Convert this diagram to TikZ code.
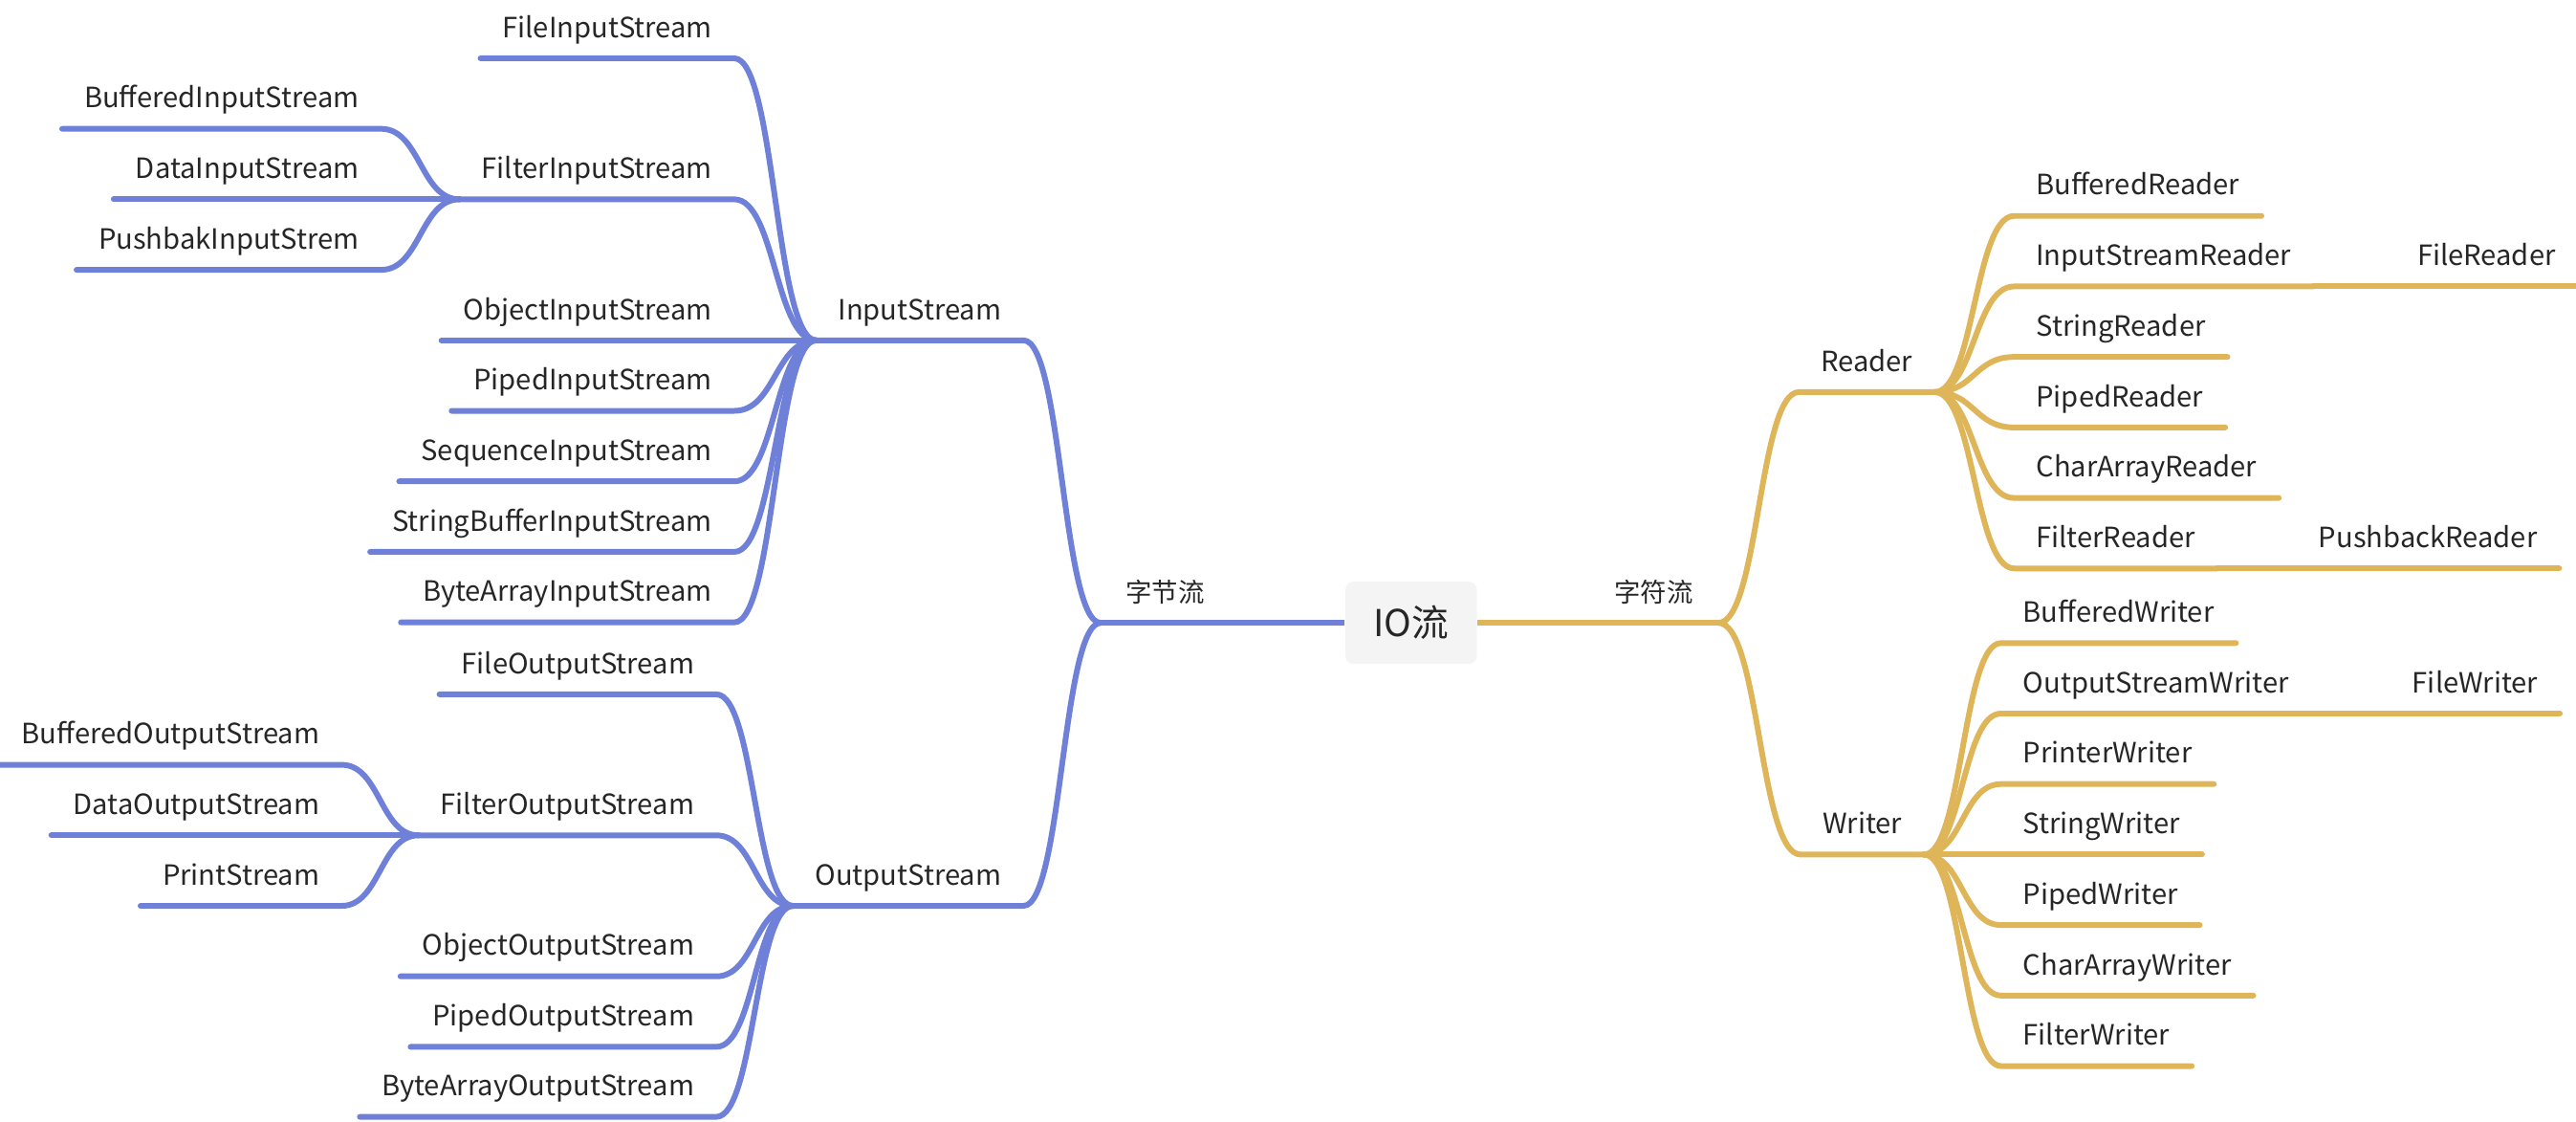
\documentclass[tikz,border=0pt]{standalone}
\usepackage{fontspec}
\setmainfont{Noto Sans CJK SC}
\usetikzlibrary{calc,positioning}

\definecolor{bluebr}{RGB}{111,128,217}
\definecolor{goldbr}{RGB}{223,181,89}
\definecolor{txtgray}{RGB}{38,38,38}
\definecolor{rootgray}{RGB}{244,244,244}

\tikzset{
  lt/.style={font=\fontsize{8.3}{10}\selectfont, text=txtgray, inner xsep=6.35pt, inner ysep=6pt, text depth=0pt, anchor=south east},
  rt/.style={lt, anchor=south west},
  mainlbl/.style={lt, font=\fontsize{7.8}{9}\selectfont, inner xsep=7.3pt},
  rootbox/.style={fill=rootgray, rounded corners=2.3pt, minimum width=1.374cm, minimum height=0.859cm, inner sep=0pt, font=\fontsize{11}{13}\selectfont, text=txtgray},
  bline/.style={bluebr, line width=1.7pt, line cap=round},
  gline/.style={goldbr, line width=1.7pt, line cap=round},
  curv/.style={to path={let \p1=(\tikztostart), \p2=(\tikztotarget) in
    .. controls ({(\x1+\x2)/2},\y1) and ({(\x1+\x2)/2},\y2) .. (\tikztotarget) \tikztonodes}}
}

\begin{document}
\begin{tikzpicture}[x=0.01718cm, y=-0.01718cm]
	\useasboundingbox (0,0) rectangle (1568,682.2);
	% root
	\node[rootbox] (io) at (859,379) {IO流};
	\node[mainlbl, anchor=south west] (bytes) at (670,379) {字节流};
	\node[mainlbl, anchor=south east] (chars) at (1046,379) {字符流};
	\draw[bluebr, line width=1.85pt] (io.west) -- (bytes.south west);
	\draw[goldbr, line width=1.85pt] (io.east) -- (chars.south east);

	% byte streams
	\node[lt] (ins) at (623,207.1) {InputStream};
	\node[lt] (ous) at (623,551.2) {OutputStream};
	\draw[bline] (ins.south west) -- (ins.south east) to[curv] (bytes.south west);
	\draw[bline] (ous.south west) -- (ous.south east) to[curv] (bytes.south west);

	\node[lt] (fis) at (447,35.5) {FileInputStream};
	\node[lt] (fil) at (447,121.3) {FilterInputStream};
	\node[lt] (ois) at (447,207.1) {ObjectInputStream};
	\node[lt] (pis) at (447,250) {PipedInputStream};
	\node[lt] (sis) at (447,292.9) {SequenceInputStream};
	\node[lt] (sbis) at (447,335.8) {StringBufferInputStream};
	\node[lt] (bais) at (447,378.7) {ByteArrayInputStream};
	\draw[bline] (fis.south west) -- (fis.south east) to[curv] (ins.south west);
	\draw[bline] (fil.south west) -- (fil.south east) to[curv] (ins.south west);
	\draw[bline] (ois.south west) -- (ois.south east) to[curv] (ins.south west);
	\draw[bline] (pis.south west) -- (pis.south east) to[curv] (ins.south west);
	\draw[bline] (sis.south west) -- (sis.south east) to[curv] (ins.south west);
	\draw[bline] (sbis.south west) -- (sbis.south east) to[curv] (ins.south west);
	\draw[bline] (bais.south west) -- (bais.south east) to[curv] (ins.south west);

	\node[lt] (bis) at (232,78.4) {BufferedInputStream};
	\node[lt] (dis) at (232,121.3) {DataInputStream};
	\node[lt] (pbis) at (232,164.2) {PushbakInputStrem};
	\draw[bline] (bis.south west) -- (bis.south east) to[curv] (fil.south west);
	\draw[bline] (dis.south west) -- (dis.south east) to[curv] (fil.south west);
	\draw[bline] (pbis.south west) -- (pbis.south east) to[curv] (fil.south west);

	\node[lt] (fos) at (436,422.5) {FileOutputStream};
	\node[lt] (flos) at (436,508.3) {FilterOutputStream};
	\node[lt] (oos) at (436,594.1) {ObjectOutputStream};
	\node[lt] (pos) at (436,637) {PipedOutputStream};
	\node[lt] (baos) at (436,679.6) {ByteArrayOutputStream};
	\draw[bline] (fos.south west) -- (fos.south east) to[curv] (ous.south west);
	\draw[bline] (flos.south west) -- (flos.south east) to[curv] (ous.south west);
	\draw[bline] (oos.south west) -- (oos.south east) to[curv] (ous.south west);
	\draw[bline] (pos.south west) -- (pos.south east) to[curv] (ous.south west);
	\draw[bline] (baos.south west) -- (baos.south east) to[curv] (ous.south west);

	\node[lt] (bos) at (208,465.4) {BufferedOutputStream};
	\node[lt] (dos) at (208,508.3) {DataOutputStream};
	\node[lt] (ps) at (208,551.2) {PrintStream};
	\draw[bline] (bos.south west) -- (bos.south east) to[curv] (flos.south west);
	\draw[bline] (dos.south west) -- (dos.south east) to[curv] (flos.south west);
	\draw[bline] (ps.south west) -- (ps.south east) to[curv] (flos.south west);

	% char streams
	\node[rt] (rd) at (1095,238.6) {Reader};
	\node[rt] (wr) at (1096,520) {Writer};
	\draw[gline] (chars.south east) to[curv] (rd.south west) -- (rd.south east);
	\draw[gline] (chars.south east) to[curv] (wr.south west) -- (wr.south east);

	\node[rt] (brd) at (1226,131.4) {BufferedReader};
	\node[rt] (isr) at (1226,174.3) {InputStreamReader};
	\node[rt] (srd) at (1226,217.2) {StringReader};
	\node[rt] (prd) at (1226,260.1) {PipedReader};
	\node[rt] (card) at (1226,303) {CharArrayReader};
	\node[rt] (frd) at (1226,345.9) {FilterReader};
	\draw[gline] (rd.south east) to[curv] (brd.south west) -- (brd.south east);
	\draw[gline] (rd.south east) to[curv] (isr.south west) -- (isr.south east);
	\draw[gline] (rd.south east) to[curv] (srd.south west) -- (srd.south east);
	\draw[gline] (rd.south east) to[curv] (prd.south west) -- (prd.south east);
	\draw[gline] (rd.south east) to[curv] (card.south west) -- (card.south east);
	\draw[gline] (rd.south east) to[curv] (frd.south west) -- (frd.south east);
	\node[rt] (flrd) at (1458,174.3) {FileReader};
	\node[rt] (pbrd) at (1398,345.9) {PushbackReader};
	\draw[gline] (isr.south east) -- (flrd.south west) -- (flrd.south east);
	\draw[gline] (frd.south east) -- (pbrd.south west) -- (pbrd.south east);

	\node[rt] (bwr) at (1218,391.3) {BufferedWriter};
	\node[rt] (oswr) at (1218,434.2) {OutputStreamWriter};
	\node[rt] (prwr) at (1218,477.1) {PrinterWriter};
	\node[rt] (swr) at (1218,520) {StringWriter};
	\node[rt] (piwr) at (1218,562.9) {PipedWriter};
	\node[rt] (cawr) at (1218,605.8) {CharArrayWriter};
	\node[rt] (fwr) at (1218,648.7) {FilterWriter};
	\draw[gline] (wr.south east) to[curv] (bwr.south west) -- (bwr.south east);
	\draw[gline] (wr.south east) to[curv] (oswr.south west) -- (oswr.south east);
	\draw[gline] (wr.south east) to[curv] (prwr.south west) -- (prwr.south east);
	\draw[gline] (wr.south east) to[curv] (swr.south west) -- (swr.south east);
	\draw[gline] (wr.south east) to[curv] (piwr.south west) -- (piwr.south east);
	\draw[gline] (wr.south east) to[curv] (cawr.south west) -- (cawr.south east);
	\draw[gline] (wr.south east) to[curv] (fwr.south west) -- (fwr.south east);
	\node[rt] (flwr) at (1455,434.2) {FileWriter};
	\draw[gline] (oswr.south east) -- (flwr.south west) -- (flwr.south east);
\end{tikzpicture}
\end{document}
